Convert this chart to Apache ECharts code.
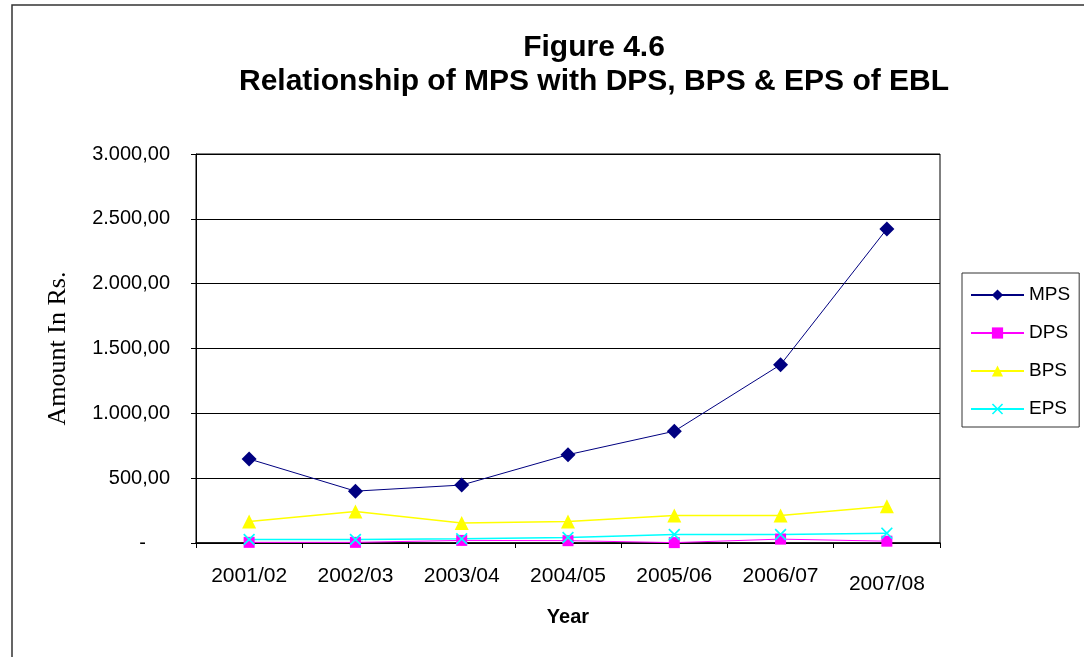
<!DOCTYPE html>
<html>
<head>
<meta charset="utf-8">
<script src="https://cdn.jsdelivr.net/npm/echarts@6/dist/echarts.min.js"></script>
<style>
html,body{margin:0;padding:0;background:#fff;}
#chart{width:1084px;height:657px;}
</style>
</head>
<body>
<div id="chart"></div>
<script>
var categories = ['2001/02','2002/03','2003/04','2004/05','2005/06','2006/07','2007/08'];
var mps = [648, 400, 447, 681, 862, 1375, 2422];
var dps = [5, 5, 20, 18, 3, 30, 14];
var bps = [166, 243, 154, 165, 212, 212, 284];
var eps = [27, 27, 32, 42, 66, 66, 76];
var yTicks = [0, 500, 1000, 1500, 2000, 2500, 3000];

var font = '"Liberation Sans", Arial, sans-serif';

function fmt(v) {
  if (v === 0) return '{d|-}';
  var s = v.toFixed(2).split('.');
  var intPart = s[0].replace(/\B(?=(\d{3})+(?!\d))/g, '.');
  return intPart + ',' + s[1];
}

var xSymbol = 'path://M0,1 L1,0 L5,4 L9,0 L10,1 L6,5 L10,9 L9,10 L5,6 L1,10 L0,9 L4,5 Z';

var chart = echarts.init(document.getElementById('chart'), null, {renderer: 'canvas'});
chart.setOption({
  backgroundColor: '#ffffff',
  animation: false,
  title: {
    text: 'Figure 4.6\nRelationship of MPS with DPS, BPS & EPS of EBL',
    left: 594,
    textAlign: 'center',
    top: 31,
    padding: 0,
    textStyle: {fontFamily: font, fontWeight: 'bold', fontSize: 30, lineHeight: 34, color: '#000'}
  },
  graphic: [{
    type: 'rect',
    shape: {x: 12, y: 5, width: 1200, height: 800},
    style: {fill: 'none', stroke: '#333', lineWidth: 1.5},
    silent: true
  }],
  legend: {
    orient: 'vertical',
    left: 962,
    top: 273,
    padding: [12, 9, 8, 8],
    itemWidth: 53,
    itemHeight: 14,
    itemGap: 18,
    borderColor: '#333',
    borderWidth: 1,
    textStyle: {fontFamily: font, fontSize: 19, color: '#000', lineHeight: 20},
    data: ['MPS', 'DPS', 'BPS', 'EPS']
  },
  grid: {
    left: 196, right: 144, top: 154, bottom: 114,
    show: true, borderColor: '#000', borderWidth: 1
  },
  xAxis: {
    type: 'category',
    data: categories.map(function (c, i) {
      return i === categories.length - 1 ? {value: c, textStyle: {padding: [8, 0, 0, 0]}} : c;
    }),
    boundaryGap: true,
    name: 'Year',
    nameLocation: 'middle',
    nameGap: 64,
    nameTextStyle: {fontFamily: font, fontWeight: 'bold', fontSize: 20, color: '#000'},
    axisLine: {lineStyle: {color: '#000', width: 1.5}},
    axisTick: {show: true, inside: false, length: 5, alignWithLabel: false, lineStyle: {color: '#000'}},
    axisLabel: {fontFamily: font, fontSize: 21, color: '#000', margin: 23},
    splitLine: {show: false}
  },
  yAxis: {
    type: 'value',
    min: yTicks[0],
    max: yTicks[yTicks.length - 1],
    interval: yTicks[1] - yTicks[0],
    name: 'Amount In Rs.',
    nameLocation: 'middle',
    nameGap: 125,
    nameRotate: 90,
    nameTextStyle: {fontFamily: '"Liberation Serif", "Times New Roman", serif', fontSize: 26, color: '#000'},
    axisLine: {show: true, lineStyle: {color: '#000', width: 1}},
    axisTick: {show: true, inside: false, length: 5, lineStyle: {color: '#000'}},
    axisLabel: {
      fontFamily: font, fontSize: 20, color: '#000', margin: 26,
      formatter: fmt,
      rich: {d: {fontFamily: font, fontSize: 20, color: '#000', padding: [0, 24, 0, 0]}}
    },
    splitLine: {show: true, lineStyle: {color: '#000', width: 1}}
  },
  series: [
    {
      name: 'MPS', type: 'line', data: mps,
      symbol: 'diamond', symbolSize: 15,
      itemStyle: {color: '#000080'},
      lineStyle: {color: '#000080', width: 1}
    },
    {
      name: 'DPS', type: 'line', data: dps,
      symbol: 'rect', symbolSize: 11,
      itemStyle: {color: '#FF00FF'},
      lineStyle: {color: '#FF00FF', width: 1}
    },
    {
      name: 'BPS', type: 'line', data: bps,
      symbol: 'triangle', symbolSize: 14,
      itemStyle: {color: '#FFFF00'},
      lineStyle: {color: '#FFFF00', width: 1.5}
    },
    {
      name: 'EPS', type: 'line', data: eps,
      symbol: xSymbol, symbolSize: 12,
      itemStyle: {color: '#00FFFF'},
      lineStyle: {color: '#00FFFF', width: 1.5}
    }
  ]
});
</script>
</body>
</html>
